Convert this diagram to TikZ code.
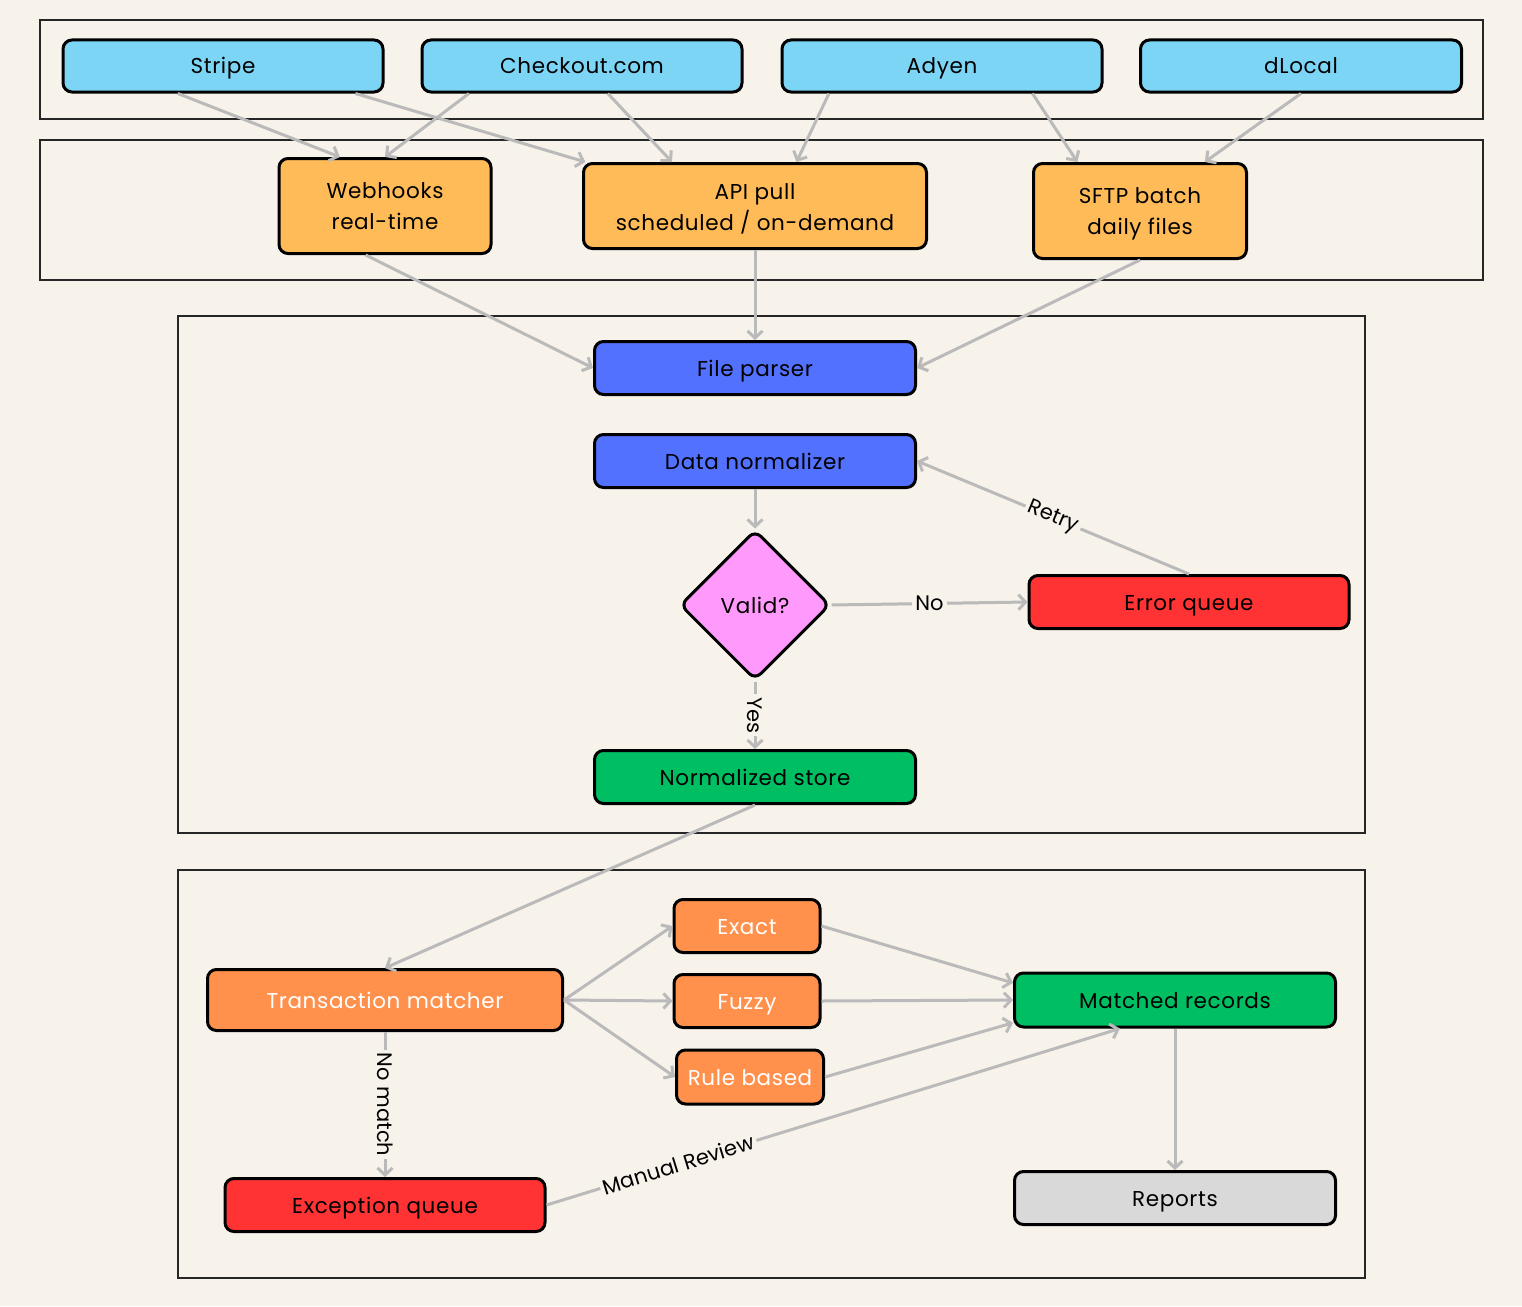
\documentclass[tikz,border=0pt]{standalone}
\usepackage{fontspec}
\setmainfont{Poppins}[LetterSpace=3]
\newfontfamily\lblfont{Poppins}[Kerning=Off]
\usetikzlibrary{shapes.geometric,arrows.meta,calc}
\definecolor{bg}{HTML}{F7F3EB}
\definecolor{lblue}{HTML}{7DD5F6}
\definecolor{lorange}{HTML}{FFBB58}
\definecolor{dblue}{HTML}{5271FF}
\definecolor{pink}{HTML}{FF99FB}
\definecolor{red}{HTML}{FF3333}
\definecolor{green}{HTML}{00BF63}
\definecolor{orange}{HTML}{FF914D}
\definecolor{lgray}{HTML}{D9D9D9}
\definecolor{edgegray}{HTML}{BABABA}
\tikzset{
  frame/.style={draw=black!85, line width=1.3pt},
  box/.style={draw=black, line width=3pt, rounded corners=9pt, inner sep=0pt, align=center,
    font=\fontsize{21.5}{31}\selectfont},
  one/.style={text height=18pt, text depth=2pt},
  conn/.style={draw=edgegray, line width=3pt, -{Straight Barb[length=7pt,width=15pt]}},
  lbl/.style={fill=bg, inner sep=3pt, font=\lblfont\fontsize{21}{24}\selectfont, text=black},
}
\begin{document}
\begin{tikzpicture}[x=1pt,y=-1pt]
\fill[bg] (0,0) rectangle (1522,1306);
\useasboundingbox (0,0) rectangle (1522,1306);
% frames
\draw[frame] (40,20) rectangle (1483,119);
\draw[frame] (40,140) rectangle (1483,280);
\draw[frame] (178,316) rectangle (1365,833);
\draw[frame] (178,870) rectangle (1365,1278);
% sources
\node[box, one, fill=lblue, minimum width=320, minimum height=52] (stripe) at (223,66) {Stripe};
\node[box, one, fill=lblue, minimum width=320, minimum height=52] (checkout) at (582,66) {Checkout.com};
\node[box, one, fill=lblue, minimum width=320, minimum height=52] (adyen) at (942,66) {Adyen};
\node[box, one, fill=lblue, minimum width=321, minimum height=52] (dlocal) at (1301,66) {dLocal};
% ingestion
\node[box, fill=lorange, minimum width=212, minimum height=95] (webhooks) at (385,206) {Webhooks\\real-time};
\node[box, fill=lorange, minimum width=343, minimum height=85] (api) at (755,206) {\rule{0pt}{21pt}API pull\\scheduled / on-demand};
\node[box, fill=lorange, minimum width=213, minimum height=95] (sftp) at (1140,211) {\rule{0pt}{22pt}SFTP batch\\daily files};
% processing
\node[box, one, fill=dblue, minimum width=321, minimum height=53] (parser) at (755,368) {File parser};
\node[box, one, fill=dblue, minimum width=321, minimum height=53] (norm) at (755,461) {Data normalizer};
\node[draw=black, line width=3pt, fill=pink, diamond, aspect=1, minimum width=150, minimum height=150,
  inner sep=0pt, rounded corners=8pt, font=\fontsize{21.5}{26}\selectfont, text height=18pt, text depth=2pt] (valid) at (755,605) {Valid?};
\node[box, one, fill=red, minimum width=320, minimum height=53] (errq) at (1189,602) {Error queue};
\node[box, one, fill=green, minimum width=321, minimum height=53] (store) at (755,777) {Normalized store};
% matching
\node[box, one, fill=orange, text=white, minimum width=355, minimum height=61] (tm) at (385,1000) {Transaction matcher};
\node[box, one, fill=orange, text=white, minimum width=146, minimum height=53] (exact) at (747,926) {Exact};
\node[box, one, fill=orange, text=white, minimum width=146, minimum height=53] (fuzzy) at (747,1001) {Fuzzy};
\node[box, one, fill=orange, text=white, minimum width=147, minimum height=54] (rule) at (750,1077) {Rule based};
\node[box, one, fill=green, minimum width=321, minimum height=54] (matched) at (1175,1000) {Matched records};
\node[box, one, fill=red, minimum width=320, minimum height=53] (excq) at (385,1205) {Exception queue};
\node[box, one, fill=lgray, minimum width=321, minimum height=53] (reports) at (1175,1198) {Reports};
% connectors: sources -> ingestion
\draw[conn] ($(stripe.south west)!0.36!(stripe.south east)$) -- ($(webhooks.north west)!0.29!(webhooks.north east)$);
\draw[conn] ($(stripe.south west)!0.91!(stripe.south east)$) -- ($(api.north west)!0.01!(api.north east)$);
\draw[conn] ($(checkout.south west)!0.15!(checkout.south east)$) -- ($(webhooks.north west)!0.50!(webhooks.north east)$);
\draw[conn] ($(checkout.south west)!0.58!(checkout.south east)$) -- ($(api.north west)!0.26!(api.north east)$);
\draw[conn] ($(adyen.south west)!0.15!(adyen.south east)$) -- ($(api.north west)!0.62!(api.north east)$);
\draw[conn] ($(adyen.south west)!0.78!(adyen.south east)$) -- ($(sftp.north west)!0.21!(sftp.north east)$);
\draw[conn] ($(dlocal.south west)!0.50!(dlocal.south east)$) -- ($(sftp.north west)!0.80!(sftp.north east)$);
% ingestion -> parser
\draw[conn] ($(webhooks.south west)!0.41!(webhooks.south east)$) -- (parser.west);
\draw[conn] (api.south) -- (parser.north);
\draw[conn] (sftp.south) -- (parser.east);
% processing
\draw[conn] (norm.south) -- (valid.north);
\draw[conn] (valid.east) -- node[lbl] {No} (errq.west);
\draw[conn] (errq.north) -- node[lbl, sloped] {Retry} (norm.east);
\draw[conn] (valid.south) -- node[lbl, rotate=-90] {Yes} (store.north);
% matching
\draw[conn] (store.south) -- (tm.north);
\draw[conn] (tm.east) -- (exact.west);
\draw[conn] (tm.east) -- (fuzzy.west);
\draw[conn] (tm.east) -- (rule.west);
\draw[conn] (exact.east) -- ($(matched.north west)!0.2!(matched.south west)$);
\draw[conn] (fuzzy.east) -- (matched.west);
\draw[conn] (rule.east) -- ($(matched.north west)!0.9!(matched.south west)$);
\draw[conn] (excq.east) -- node[lbl, sloped, pos=0.23] {Manual Review} ($(matched.south west)!0.33!(matched.south east)$);
\draw[conn] (matched.south) -- (reports.north);
\draw[conn] (tm.south) -- node[lbl, rotate=-90] {No match} (excq.north);
\end{tikzpicture}
\end{document}
